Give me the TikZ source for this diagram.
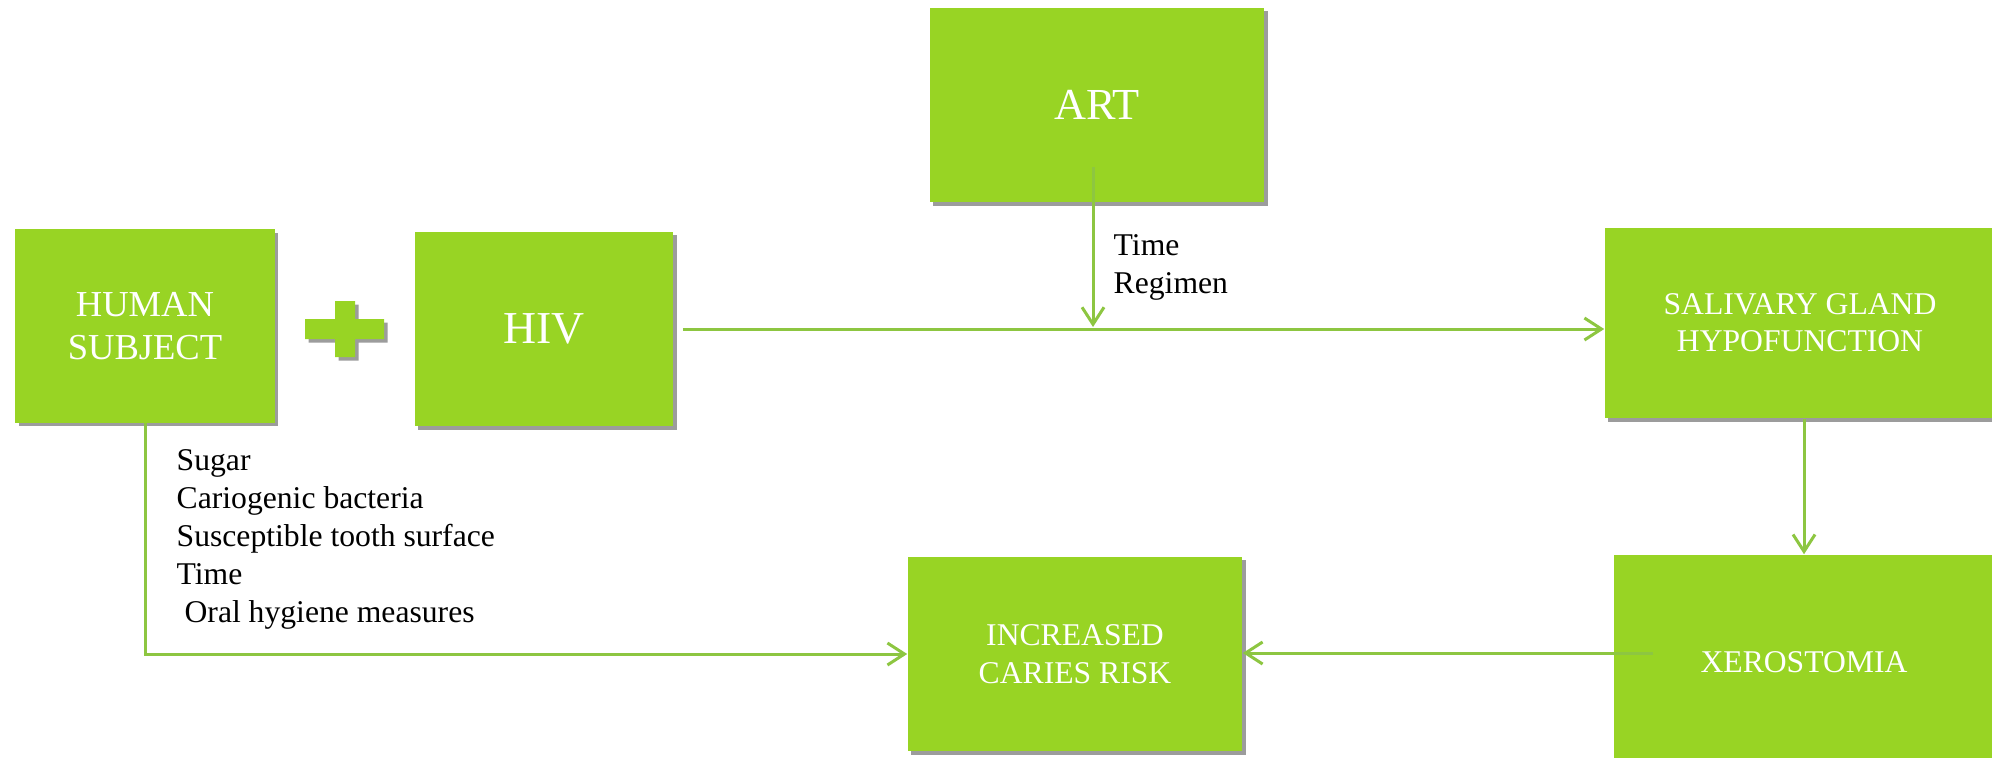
\documentclass[tikz,border=0pt]{standalone}
\usepackage{fontspec}
\setmainfont{Liberation Serif}
\usepackage{tikz}
\definecolor{vert}{HTML}{98D424}
\definecolor{trait}{HTML}{8DC641}
\definecolor{ombre}{HTML}{4A4A4A}
\usetikzlibrary{shadows,arrows.meta}

\tikzset{
  ombree/.style={drop shadow={shadow xshift=0.035cm,shadow yshift=-0.035cm,fill=ombre,opacity=0.55}},
  boite/.style={rectangle,fill=vert,text=white,align=center,inner sep=0pt,ombree},
  fleche/.style={draw=trait,line width=0.03cm,-{Straight Barb[length=0.17cm,width=0.22cm]}},
  petit/.style={font=\fontsize{9}{10.8}\selectfont,align=left,inner sep=0pt}
}

\begin{document}
\begin{tikzpicture}[x=0.01cm,y=-0.01cm]
  \useasboundingbox (0,0) rectangle (1992,757);

  \node[
    boite,
    minimum width=2.59cm,
    minimum height=1.93cm,
    font=\fontsize{10.4}{12.2}\selectfont] at (145,326) (humain) {HUMAN\\SUBJECT};

  \fill[vert,ombree] (335,301) -- (355,301) -- (355,319) -- (384,319) -- (384,339)
    -- (355,339) -- (355,357) -- (335,357) -- (335,339) -- (305,339) -- (305,319)
    -- (335,319) -- cycle;

  \node[
    boite,
    minimum width=2.58cm,
    minimum height=1.94cm,
    font=\fontsize{13}{15}\selectfont] at (544,329) (hiv) {HIV};

  \node[
    boite,
    minimum width=3.34cm,
    minimum height=1.94cm,
    font=\fontsize{12.6}{15}\selectfont] at (1097,105) (art) {ART};

  \node[
    boite,
    minimum width=3.9cm,
    minimum height=1.9cm,
    font=\fontsize{9}{10.5}\selectfont] at (1800,323) (salive) {SALIVARY GLAND\\HYPOFUNCTION};

  \node[
    boite,
    minimum width=3.8cm,
    minimum height=2.14cm,
    font=\fontsize{9}{10.8}\selectfont] at (1804,662) (xero) {XEROSTOMIA};

  \node[
    boite,
    minimum width=3.34cm,
    minimum height=1.94cm,
    font=\fontsize{9}{10.8}\selectfont] at (1075,654) (caries) {INCREASED\\CARIES RISK};

  \coordinate (artbas) at (1093,167);
  \coordinate (croise) at (1093,327);
  \coordinate (xerogauche) at (1653,653);

  \draw[fleche,shorten <=0.09cm] (hiv.east) -- (hiv.east -| salive.west);
  \draw[fleche] (artbas) -- (croise);
  \draw[fleche] (xero.north |- salive.south) -- (xero.north);
  \draw[fleche] (xerogauche) -- (caries.east |- xerogauche);
  \draw[fleche] (humain.south) |- (caries.west);

  \node[petit,anchor=west] at (1113,267) (duree) {Time\\Regimen};

  \node[petit,anchor=north west] at (176,449) (facteurs) {Sugar\\Cariogenic bacteria\\Susceptible tooth surface\\Time\\\hspace*{0.25em}Oral hygiene measures};

\end{tikzpicture}
\end{document}
